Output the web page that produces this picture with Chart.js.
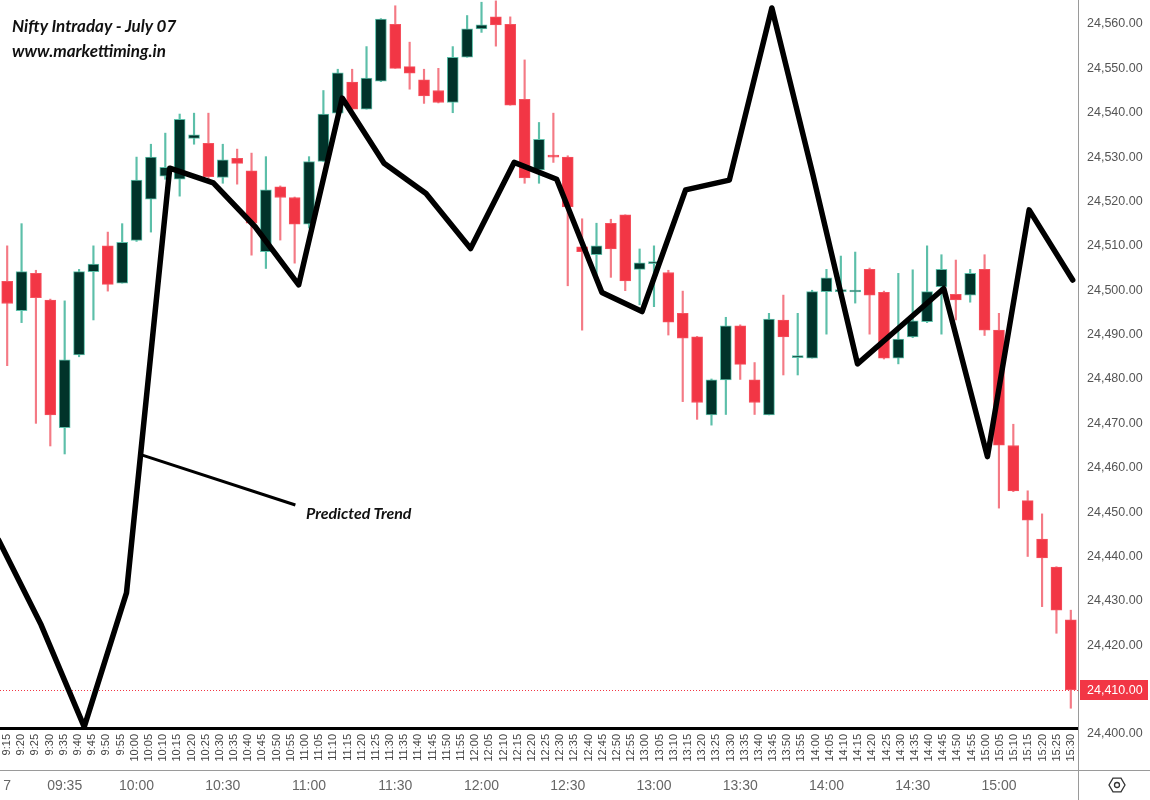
<!DOCTYPE html>
<html>
<head>
<meta charset="utf-8">
<title>Nifty Intraday - July 07</title>
<script src="https://cdn.jsdelivr.net/npm/chart.js@4.4.1/dist/chart.umd.min.js"></script>
<style>
  html, body { margin: 0; padding: 0; background: #fff; }
  #wrap { position: relative; width: 1150px; height: 800px; }
  .note { position: absolute; font-family: Lato, 'Open Sans', sans-serif; font-weight: 700; font-style: italic; color: #111; white-space: nowrap; }
</style>
</head>
<body>
<div id="wrap">
  <canvas id="chart"></canvas>
  <div class="note" style="left:12px; top:15px; font-size:17px;">Nifty Intraday - July 07</div>
  <div class="note" style="left:12px; top:40px; font-size:17px;">www.markettiming.in</div>
  <div class="note" style="left:306px; top:503px; font-size:16px;">Predicted Trend</div>
</div>
<script>
// 5 min candles, 9:15 - 15:25
const candleTimes = [
  '09:15','09:20','09:25','09:30','09:35','09:40','09:45','09:50','09:55',
  '10:00','10:05','10:10','10:15','10:20','10:25','10:30','10:35','10:40','10:45','10:50','10:55',
  '11:00','11:05','11:10','11:15','11:20','11:25','11:30','11:35','11:40','11:45','11:50','11:55',
  '12:00','12:05','12:10','12:15','12:20','12:25','12:30','12:35','12:40','12:45','12:50','12:55',
  '13:00','13:05','13:10','13:15','13:20','13:25','13:30','13:35','13:40','13:45','13:50','13:55',
  '14:00','14:05','14:10','14:15','14:20','14:25','14:30','14:35','14:40','14:45','14:50','14:55',
  '15:00','15:05','15:10','15:15','15:20','15:25'
];

const opens = [
  24502, 24495.4, 24503.8, 24497.8, 24469, 24485.4, 24504.2, 24510, 24501.6,
  24511.2, 24520.5, 24525.7, 24525, 24534.2, 24533.1, 24525.4, 24529.7, 24526.9, 24508.7, 24523.3, 24520.9,
  24514.9, 24529, 24539.9, 24546.9, 24540.8, 24547.1, 24559.9, 24550.4, 24547.4, 24545, 24542.3, 24552.5,
  24558.9, 24561.6, 24559.9, 24543, 24527.1, 24530.3, 24530, 24509.8, 24508, 24515.1, 24517, 24504.7,
  24506, 24504, 24494.8, 24489.5, 24471.9, 24479.8, 24492, 24479.8, 24471.9, 24493.3, 24484.8, 24484.7,
  24499.7, 24499.7, 24499.6, 24504.7, 24499.5, 24484.7, 24489.5, 24492.9, 24500.8, 24499.1, 24498.9, 24504.7,
  24491, 24465, 24452.6, 24443.9, 24437.6, 24425.7
];
const highs = [
  24510, 24515, 24504.5, 24498, 24497.6, 24504.7, 24510, 24513.1, 24515,
  24530, 24532.9, 24535.4, 24539.7, 24539.9, 24539.9, 24532.9, 24531.8, 24530.9, 24530.1, 24523.5, 24521,
  24530.1, 24545, 24549.8, 24549.8, 24554.9, 24561.2, 24564.1, 24555.9, 24549.8, 24550, 24554.9, 24561.9,
  24564.9, 24565.2, 24561.6, 24551.9, 24537.8, 24539.9, 24530.3, 24516.1, 24515.1, 24516, 24517, 24509.3,
  24510, 24504.5, 24499.8, 24489.6, 24480, 24493.9, 24492.2, 24483.7, 24494.8, 24498.9, 24494.8, 24500,
  24504.7, 24507.7, 24508.6, 24505, 24499.8, 24503.8, 24504.6, 24510, 24508, 24506.8, 24504.7, 24508,
  24494.8, 24469.8, 24454.8, 24449.6, 24437.7, 24427.9
];
const lows = [
  24483, 24492.7, 24470, 24464.9, 24463.1, 24485, 24493.3, 24499.8, 24501.6,
  24511, 24513.1, 24525, 24521.2, 24532.9, 24525, 24524.1, 24523.9, 24507.9, 24504.9, 24511.3, 24506.1,
  24514, 24529, 24539.8, 24540.5, 24540.8, 24547, 24550, 24545.3, 24542.1, 24542.2, 24540, 24552.5,
  24558.1, 24555, 24541.7, 24524.1, 24524.1, 24528.8, 24501, 24491, 24503.1, 24502.9, 24499.9, 24496.7,
  24496.3, 24489.9, 24474.9, 24470.9, 24469.6, 24472, 24479.9, 24472, 24471.9, 24480.9, 24480.9, 24484.7,
  24490.1, 24499.5, 24497.1, 24490.1, 24484.5, 24483.4, 24489.3, 24492.7, 24490.1, 24493.3, 24497.3, 24489.8,
  24450.9, 24454.6, 24440, 24428.7, 24422.7, 24405.8
];
const closes = [
  24497, 24504.2, 24498.3, 24471.9, 24484.3, 24504.2, 24505.9, 24501.3, 24510.8,
  24524.8, 24530, 24527.7, 24538.5, 24535, 24525.6, 24529.4, 24528.6, 24515.1, 24522.6, 24520.9, 24514.9,
  24529, 24539.7, 24549, 24540.8, 24547.8, 24561.1, 24550, 24548.9, 24543.8, 24542.3, 24552.5, 24558.9,
  24559.8, 24559.8, 24541.7, 24525.3, 24534, 24530, 24518.8, 24508.7, 24510, 24509.3, 24502.1, 24506.2,
  24506.3, 24492.8, 24489.2, 24474.7, 24479.8, 24492, 24483.3, 24474.7, 24493.5, 24489.5, 24485.3, 24499.7,
  24502.8, 24499.9, 24499.8, 24498.9, 24484.7, 24489, 24493.1, 24499.7, 24504.7, 24497.8, 24503.8, 24491,
  24465.1, 24454.8, 24448.2, 24439.7, 24427.9, 24410
];

// Predicted trend: position in candle slots, price
const trendSlots = [-0.6, 2.36, 5.36, 8.3, 11.31, 14.34, 17.25, 20.28, 23.31, 26.22, 29.14, 32.24, 35.27,
  38.23, 41.38, 44.17, 47.2, 50.24, 53.2, 56.06, 59.16, 62.2, 65.16, 68.2, 71.1, 74.13];
const trendValues = [24443.7, 24424.6, 24401.6, 24431.8, 24527.5, 24524.2, 24514.3, 24501.2, 24543.3,
  24528.6, 24521.8, 24509.4, 24528.8, 24525.0, 24499.5, 24495.2, 24522.6, 24524.8, 24563.6, 24526.0,
  24483.4, 24492.0, 24500.4, 24462.5, 24518.1, 24502.3];

// pointer from the trend line to the "Predicted Trend" note
const pointerSlots = [9.35, 20.05];
const pointerValues = [24462.9, 24451.6];

// rotated labels under the black axis line
const slotLabels = [
  '9:15','9:20','9:25','9:30','9:35','9:40','9:45','9:50','9:55',
  '10:00','10:05','10:10','10:15','10:20','10:25','10:30','10:35','10:40','10:45','10:50','10:55',
  '11:00','11:05','11:10','11:15','11:20','11:25','11:30','11:35','11:40','11:45','11:50','11:55',
  '12:00','12:05','12:10','12:15','12:20','12:25','12:30','12:35','12:40','12:45','12:50','12:55',
  '13:00','13:05','13:10','13:15','13:20','13:25','13:30','13:35','13:40','13:45','13:50','13:55',
  '14:00','14:05','14:10','14:15','14:20','14:25','14:30','14:35','14:40','14:45','14:50','14:55',
  '15:00','15:05','15:10','15:15','15:20','15:25','15:30'
];
// bottom time axis
const dayLabel = '7';
const timeAxisMarks = ['09:35','10:00','10:30','11:00','11:30','12:00','12:30','13:00','13:30','14:00','14:30','15:00'];
const priceTicks = [24400, 24410, 24420, 24430, 24440, 24450, 24460, 24470, 24480, 24490,
  24500, 24510, 24520, 24530, 24540, 24550, 24560];

const UP_BODY = '#01332a';
const UP_WICK = '#5cbfa9';
const DOWN_BODY = '#f23645';
const DOWN_WICK = '#f47a85';

const isUp = opens.map((o, i) => closes[i] >= o);
const fmtPrice = v => v.toLocaleString('en-US', { minimumFractionDigits: 2, maximumFractionDigits: 2 });

const priceTag = {
  id: 'priceTag',
  beforeDatasetsDraw(chart) {
    const { ctx, chartArea, scales } = chart;
    const y = Math.round(scales.y.getPixelForValue(closes[closes.length - 1])) + 0.5;
    ctx.save();
    ctx.strokeStyle = '#f23645';
    ctx.lineWidth = 1;
    ctx.setLineDash([1, 2]);
    ctx.beginPath();
    ctx.moveTo(chartArea.left, y);
    ctx.lineTo(chartArea.right, y);
    ctx.stroke();
    ctx.restore();
  },
  afterDraw(chart) {
    const { ctx, chartArea, scales, width, height } = chart;
    const last = closes[closes.length - 1];
    const y = Math.round(scales.y.getPixelForValue(last));
    ctx.save();
    // frame lines of the price and time panes
    ctx.strokeStyle = '#9a9a9a';
    ctx.lineWidth = 1;
    ctx.beginPath();
    ctx.moveTo(chartArea.right + 0.5, 0);
    ctx.lineTo(chartArea.right + 0.5, height);
    ctx.moveTo(0, scales.x.top + 0.5);
    ctx.lineTo(width, scales.x.top + 0.5);
    ctx.stroke();
    // last price label
    ctx.fillStyle = '#f23645';
    ctx.fillRect(chartArea.right + 2, y - 10, 68, 20);
    ctx.fillStyle = '#fff';
    ctx.font = '12.5px "Liberation Sans", Arial, sans-serif';
    ctx.textBaseline = 'middle';
    ctx.fillText(fmtPrice(last), chartArea.right + 9, y + 1);
    // settings icon
    const cx = chartArea.right + 39, cy = scales.x.top + 15;
    ctx.strokeStyle = '#333';
    ctx.lineWidth = 1.3;
    ctx.beginPath();
    for (let k = 0; k < 6; k++) {
      const a = Math.PI / 3 * k;
      const px = cx + 8 * Math.cos(a), py = cy + 8 * Math.sin(a);
      if (k === 0) ctx.moveTo(px, py); else ctx.lineTo(px, py);
    }
    ctx.closePath();
    ctx.stroke();
    ctx.beginPath();
    ctx.arc(cx, cy, 2.5, 0, Math.PI * 2);
    ctx.stroke();
    ctx.restore();
  }
};

new Chart(document.getElementById('chart'), {
  type: 'bar',
  plugins: [priceTag],
  data: {
    labels: candleTimes,
    datasets: [
      {
        type: 'line',
        label: 'Predicted Trend',
        xAxisID: 'xt',
        data: trendSlots.map((s, i) => ({ x: s, y: trendValues[i] })),
        borderColor: '#000',
        borderWidth: 5.5,
        borderJoinStyle: 'round',
        borderCapStyle: 'round',
        pointRadius: 0,
        tension: 0,
        fill: false
      },
      {
        type: 'line',
        label: 'pointer',
        xAxisID: 'xt',
        data: pointerSlots.map((s, i) => ({ x: s, y: pointerValues[i] })),
        borderColor: '#000',
        borderWidth: 3,
        pointRadius: 0,
        fill: false
      },
      {
        label: 'body',
        xAxisID: 'x',
        data: opens.map((o, i) => [o, closes[i]]),
        backgroundColor: isUp.map(u => u ? UP_BODY : DOWN_BODY),
        borderColor: isUp.map(u => u ? UP_WICK : '#f5525f'),
        borderWidth: 1,
        borderSkipped: false,
        barThickness: 11,
        minBarLength: 2,
        grouped: false
      },
      {
        label: 'wick',
        xAxisID: 'x',
        data: lows.map((l, i) => [l, highs[i]]),
        backgroundColor: isUp.map(u => u ? UP_WICK : DOWN_WICK),
        borderWidth: 0,
        barThickness: 1.5,
        grouped: false
      }
    ]
  },
  options: {
    responsive: true,
    maintainAspectRatio: false,
    animation: false,
    layout: { padding: 0 },
    plugins: {
      legend: { display: false },
      tooltip: { enabled: false }
    },
    scales: {
      x: {
        type: 'category',
        position: 'bottom',
        weight: 5,
        afterFit(s) { s.height = 30; s.paddingLeft = 0; s.paddingRight = 0; },
        grid: { display: false, drawTicks: false },
        border: { display: true, color: '#9a9a9a', width: 1 },
        ticks: {
          autoSkip: false,
          maxRotation: 0,
          minRotation: 0,
          padding: 8,
          color: '#666',
          font: { family: '"Liberation Sans", Arial, sans-serif', size: 14 },
          callback(value) {
            const t = this.getLabelForValue(value);
            if (t === candleTimes[0]) return dayLabel;
            return timeAxisMarks.includes(t) ? t : '';
          }
        }
      },
      xr: {
        type: 'category',
        position: 'bottom',
        weight: 1,
        labels: slotLabels,
        offset: true,
        afterFit(s) { s.height = 42; s.paddingLeft = 0; s.paddingRight = 0; },
        grid: { display: false, drawTicks: false },
        border: { display: true, color: '#000', width: 3 },
        ticks: {
          autoSkip: false,
          minRotation: 90,
          maxRotation: 90,
          padding: 6,
          color: '#444',
          font: { family: '"Liberation Sans", Arial, sans-serif', size: 11 }
        }
      },
      xt: {
        type: 'linear',
        display: false,
        offset: false,
        grace: 0,
        min: -0.5,
        max: candleTimes.length - 0.5
      },
      y: {
        position: 'right',
        min: 24401.35,
        max: 24565.4,
        afterFit(s) { s.width = 72; s.paddingTop = 0; s.paddingBottom = 0; },
        afterBuildTicks(s) { s.ticks = priceTicks.map(v => ({ value: v })); },
        grid: { display: false, drawTicks: false },
        border: { display: true, color: '#9a9a9a', width: 1 },
        ticks: {
          autoSkip: false,
          padding: 9,
          color: '#555',
          font: { family: '"Liberation Sans", Arial, sans-serif', size: 12.5 },
          callback: v => fmtPrice(v)
        }
      }
    }
  }
});
</script>
</body>
</html>
